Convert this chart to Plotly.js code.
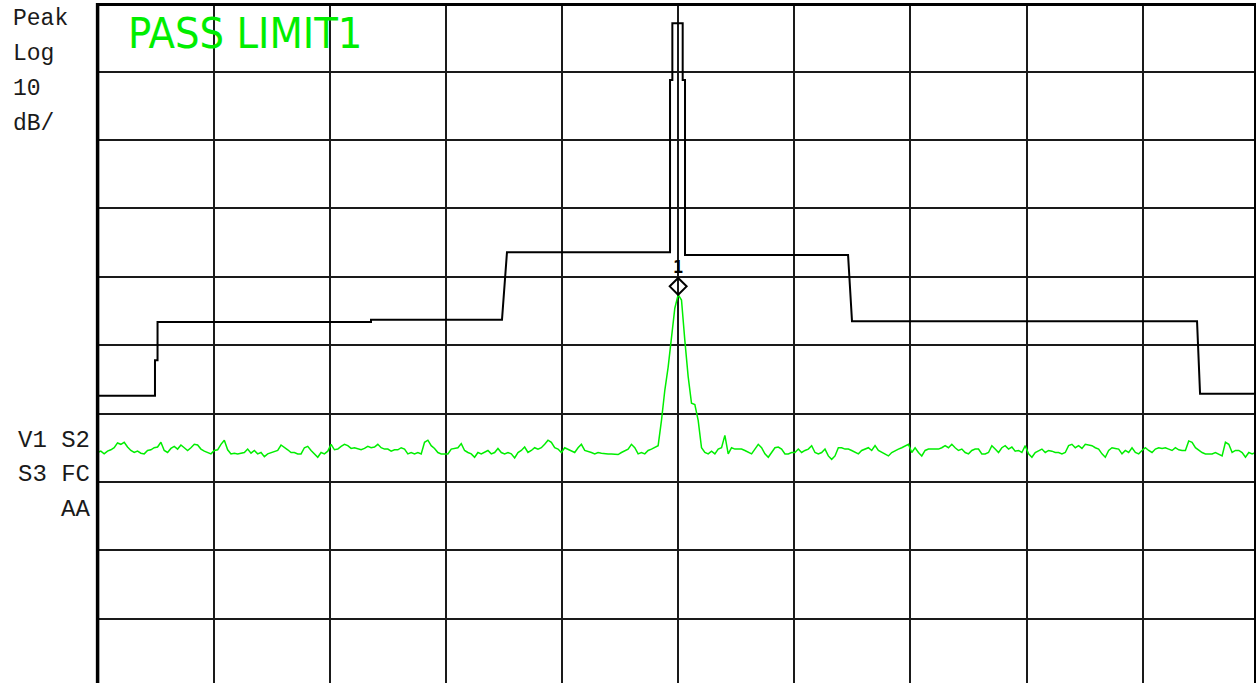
<!DOCTYPE html>
<html>
<head>
<meta charset="utf-8">
<script src="https://cdn.plot.ly/plotly-3.0.1.min.js"></script>
<style>html,body{margin:0;padding:0;background:#fff;}#chart{width:1256px;height:683px;}</style>
</head>
<body>
<div id="chart"></div>
<script>
// Sweep settings (arbitrary frequency units, 10 divisions)
const startFreq = 995;
const stopFreq = 1005;

// Measured trace amplitude (dB), 349 sweep points
const traceAmp = [
-65.7,-65.5,-65.9,-65.5,-65.3,-65.0,-64.3,-64.5,-64.2,-64.9,
-65.4,-65.7,-65.5,-65.8,-65.9,-65.4,-65.3,-65.0,-64.9,-64.2,
-65.4,-65.7,-65.1,-64.8,-65.2,-64.6,-65.0,-65.4,-65.0,-64.5,
-64.6,-65.2,-65.5,-65.7,-65.9,-65.4,-65.3,-64.5,-63.9,-65.3,
-65.9,-65.8,-65.9,-65.8,-65.7,-65.2,-65.8,-65.4,-65.9,-65.7,
-66.3,-65.9,-65.7,-65.5,-65.4,-64.6,-64.9,-65.3,-65.7,-65.7,
-65.9,-65.9,-65.0,-64.8,-65.4,-65.9,-66.4,-65.7,-65.9,-65.5,
-64.5,-65.3,-65.2,-64.8,-64.5,-64.7,-65.1,-65.0,-65.1,-65.3,
-65.1,-64.8,-65.0,-64.9,-64.5,-65.0,-65.2,-65.2,-65.5,-65.3,
-65.3,-65.0,-65.2,-65.9,-65.7,-65.9,-65.7,-65.9,-64.2,-63.9,
-64.7,-65.1,-65.7,-65.9,-65.9,-65.9,-65.2,-65.1,-65.0,-64.4,
-65.4,-65.7,-65.9,-66.4,-65.7,-65.9,-65.7,-65.4,-65.9,-65.7,
-65.1,-65.7,-65.9,-65.7,-65.9,-66.5,-65.7,-65.4,-64.9,-65.7,
-65.4,-65.0,-65.2,-65.0,-64.5,-63.9,-64.2,-65.0,-65.2,-65.7,
-65.0,-65.2,-65.4,-65.7,-65.0,-64.5,-65.4,-65.5,-65.7,-65.9,
-65.7,-65.8,-65.9,-65.9,-65.9,-65.9,-66.0,-65.7,-65.5,-65.2,
-64.5,-65.0,-65.9,-65.7,-65.9,-65.4,-65.2,-65.0,-64.7,-61.0,
-56.6,-53.2,-49.0,-44.6,-42.6,-43.4,-49.3,-54.6,-58.5,-58.7,
-61.0,-65.0,-65.7,-65.9,-65.5,-65.9,-65.2,-65.0,-63.2,-65.9,
-65.0,-65.2,-65.2,-65.2,-65.4,-65.7,-65.9,-65.2,-64.5,-65.0,
-65.9,-66.4,-65.7,-65.0,-64.9,-65.2,-65.9,-65.9,-65.7,-65.7,
-65.2,-65.7,-65.4,-65.2,-64.7,-65.7,-65.9,-65.7,-65.2,-66.2,
-66.7,-66.2,-65.0,-65.0,-65.2,-65.2,-65.4,-65.7,-65.9,-65.4,
-65.2,-65.0,-65.4,-64.7,-65.4,-65.7,-65.9,-66.2,-65.7,-65.4,
-65.2,-65.0,-64.7,-64.5,-65.7,-65.0,-65.7,-66.2,-65.4,-65.2,
-65.2,-65.2,-65.2,-65.0,-64.7,-65.0,-64.5,-65.0,-65.4,-65.2,
-65.7,-65.9,-65.4,-65.2,-65.2,-65.9,-65.9,-65.7,-64.7,-65.2,
-65.7,-65.0,-64.7,-65.2,-64.9,-65.5,-65.4,-65.7,-64.7,-65.9,
-66.4,-65.7,-65.4,-65.2,-65.7,-65.4,-65.5,-65.7,-65.7,-65.9,
-65.7,-64.7,-64.5,-65.0,-64.7,-65.1,-64.5,-64.6,-64.7,-65.0,
-65.2,-65.9,-66.4,-65.4,-65.0,-65.1,-65.2,-65.9,-65.4,-65.7,
-65.0,-65.7,-65.9,-65.4,-65.0,-65.4,-65.7,-65.2,-65.0,-65.1,
-65.0,-65.2,-65.4,-65.0,-65.3,-65.4,-65.4,-64.0,-64.2,-65.0,
-65.4,-65.7,-65.9,-65.9,-65.9,-65.7,-65.9,-66.2,-64.2,-64.5,
-65.7,-65.4,-65.4,-65.7,-66.4,-65.7,-65.9,-65.7,-65.7
];

// Limit line (LIMIT1)
const limitFreq = [995, 995.495, 995.495, 995.517, 995.517, 997.355, 997.355, 998.483, 998.526, 999.930, 999.930, 999.950, 999.950, 1000.039, 1000.039, 1000.059, 1000.059, 1001.463, 1001.497, 1004.468, 1004.494, 1005];
const limitAmp  = [-57.4, -57.4, -52.2, -52.2, -46.6, -46.6, -46.3, -46.3, -36.4, -36.4, -11.2, -11.2, -2.9, -2.9, -11.2, -11.2, -36.8, -36.8, -46.5, -46.5, -57.1, -57.1];

// Marker
const markerFreq = [1000.0];
const markerAmp = [-41.4];
const markerLabel = ['1'];

// Screen annotations
const leftLabels = ['Peak', 'Log', '10', 'dB/'];
const statusLabels = ['V1 S2', 'S3 FC', 'AA'];
const passText = 'PASS LIMIT1';

const traceFreq = traceAmp.map((_, i) => startFreq + i * (stopFreq - startFreq) / (traceAmp.length - 1));

const W = 1256, H = 683, L = 97, T = 3, PW = 1159, PH = 680;
const px = x => (x - L) / PW;
const py = y => 1 - (y - T) / PH;

const monoFont = '"Liberation Mono", "DejaVu Sans Mono", monospace';
const annotations = [];
const leftY = [19, 54, 89, 124];
leftLabels.forEach((t, i) => annotations.push({
  text: t, xref: 'paper', yref: 'paper', x: px(11), y: py(leftY[i]),
  xanchor: 'left', yanchor: 'middle', showarrow: false,
  font: {family: monoFont, size: 23, color: '#1a1a1a'}
}));
const statY = [440, 474, 509];
statusLabels.forEach((t, i) => annotations.push({
  text: t, xref: 'paper', yref: 'paper', x: px(92), y: py(statY[i]),
  xanchor: 'right', yanchor: 'middle', showarrow: false,
  font: {family: monoFont, size: 24, color: '#1a1a1a'}
}));
annotations.push({
  text: passText, xref: 'paper', yref: 'paper', x: px(126), y: py(33),
  xanchor: 'left', yanchor: 'middle', showarrow: false,
  font: {family: '"Liberation Sans Narrow", "DejaVu Sans Condensed", "Liberation Sans", sans-serif', size: 43, color: '#00ee00'}
});
annotations.push({
  text: markerLabel[0], x: markerFreq[0], y: markerAmp[0], xref: 'x', yref: 'y',
  xanchor: 'center', yanchor: 'bottom', yshift: 7, showarrow: false,
  font: {family: '"DejaVu Sans Mono", monospace', size: 17, color: '#000', weight: 'bold'}
});

const data = [
  {x: limitFreq, y: limitAmp, type: 'scatter', mode: 'lines', line: {color: '#000', width: 2}, hoverinfo: 'skip'},
  {x: traceFreq, y: traceAmp, type: 'scatter', mode: 'lines', line: {color: '#00ee00', width: 1.5}, hoverinfo: 'skip'},
  {x: markerFreq, y: markerAmp, type: 'scatter', mode: 'markers',
   marker: {symbol: 'diamond-open', size: 13, color: '#000', line: {width: 2, color: '#000'}}, hoverinfo: 'skip', cliponaxis: false}
];

const layout = {
  width: W, height: H,
  margin: {l: L, r: 0, t: T, b: 0, pad: 0},
  paper_bgcolor: '#fff', plot_bgcolor: '#fff',
  showlegend: false,
  xaxis: {range: [994.9957, 1004.9757], dtick: 1, tick0: 995, showgrid: true, gridcolor: '#1a1a1a', gridwidth: 2,
          zeroline: false, showline: false, showticklabels: false, ticks: ''},
  yaxis: {range: [-99.41, 0.044], dtick: 10, tick0: 0, showgrid: true, gridcolor: '#1a1a1a', gridwidth: 2,
          zeroline: false, showline: false, showticklabels: false, ticks: ''},
  shapes: [
    {type: 'line', xref: 'paper', yref: 'paper', x0: px(97.6), x1: px(97.6), y0: -0.01, y1: py(3), line: {color: '#000', width: 3.5}},
    {type: 'line', xref: 'paper', yref: 'paper', x0: px(96), x1: 1.01, y0: py(4.5), y1: py(4.5), line: {color: '#000', width: 3}},
    {type: 'line', xref: 'paper', yref: 'paper', x0: px(1255), x1: px(1255), y0: -0.01, y1: py(4), line: {color: '#000', width: 2}}
  ],
  annotations: annotations
};

Plotly.newPlot('chart', data, layout, {staticPlot: true, displayModeBar: false});
</script>
</body>
</html>
